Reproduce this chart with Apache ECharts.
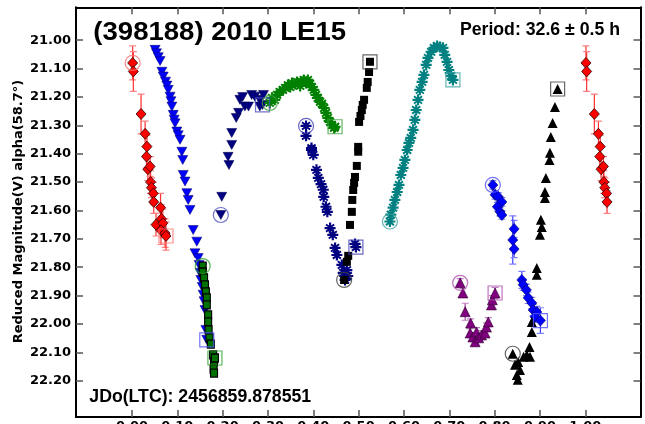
<!DOCTYPE html>
<html><head><meta charset="utf-8">
<script src="https://cdn.jsdelivr.net/npm/echarts@6/dist/echarts.min.js"></script>
<style>html,body{margin:0;padding:0;background:#fff}#c{width:645px;height:424px}</style>
</head><body><div id="c"></div>
<script>
// ---- axis ticks ----
const phaseTicks = [0, 0.1, 0.2, 0.3, 0.4, 0.5, 0.6, 0.7, 0.8, 0.9, 1.0];
const magTicks = [21.0, 21.1, 21.2, 21.3, 21.4, 21.5, 21.6, 21.7, 21.8, 21.9, 22.0, 22.1, 22.2];
const phaseRange = [-0.1235, 1.1218];
const magRange = [20.884, 22.328];

// ---- texts ----
const titleText = "(398188) 2010 LE15";
const periodText = "Period: 32.6 \u00b1 0.5 h";
const epochText = "JDo(LTC): 2456859.878551";
const yName = "Reduced Magnitude(V) alpha(58.7\u00b0)";

// ---- data: [phase, reduced magnitude] ----
const redPts = [[0.0015,21.08],[0.003,21.11],[0.020,21.26],[0.029,21.33],[0.033,21.375],[0.032,21.41],[0.035,21.455],[0.040,21.445],[0.041,21.50],[0.043,21.52],[0.047,21.54],[0.048,21.57],[0.063,21.59],[0.053,21.65],[0.065,21.63],[0.068,21.645],[0.064,21.67],[0.073,21.68],[0.075,21.69]];
const redErr = [0.06,0.07,0.07,0.045,0.04,0.04,0.04,0.035,0.04,0.035,0.04,0.04,0.05,0.04,0.05,0.05,0.05,0.05,0.05];

const blueTri = [[0.051,21.034],[0.054,21.046],[0.058,21.06],[0.062,21.073],[0.066,21.111],[0.069,21.128],[0.074,21.146],[0.077,21.16],[0.080,21.175],[0.084,21.199],[0.086,21.215],[0.088,21.234],[0.091,21.263],[0.093,21.28],[0.095,21.293],[0.099,21.322],[0.102,21.335],[0.106,21.351],[0.110,21.393],[0.112,21.422],[0.113,21.475],[0.117,21.498],[0.121,21.539],[0.124,21.563],[0.128,21.598],[0.135,21.669],[0.143,21.710],[0.139,21.751],[0.146,21.768],[0.148,21.792],[0.150,21.82],[0.152,21.845],[0.155,21.87],[0.157,21.897],[0.159,21.92],[0.161,21.951],[0.163,22.021],[0.165,22.056]];

const greenSq = [[0.156,21.796],[0.156,21.817],[0.159,21.838],[0.161,21.862],[0.163,21.887],[0.165,21.908],[0.165,21.933],[0.168,21.968],[0.168,21.993],[0.169,22.021],[0.171,22.049],[0.174,22.071],[0.179,22.109],[0.181,22.134],[0.180,22.159],[0.181,22.173],[0.183,22.12]];

const navyTri = [[0.196,21.616],[0.198,21.552],[0.214,21.440],[0.212,21.411],[0.220,21.369],[0.220,21.327],[0.230,21.274],[0.235,21.256],[0.238,21.210],[0.244,21.200],[0.249,21.234],[0.257,21.234],[0.264,21.193],[0.271,21.199],[0.282,21.210],[0.282,21.234],[0.290,21.193],[0.288,21.228]];

const greenStar = [[0.304,21.221],[0.309,21.203],[0.315,21.210],[0.320,21.193],[0.326,21.182],[0.333,21.175],[0.338,21.168],[0.344,21.158],[0.349,21.165],[0.353,21.151],[0.360,21.154],[0.364,21.147],[0.371,21.161],[0.375,21.147],[0.379,21.140],[0.384,21.151],[0.388,21.140],[0.393,21.154],[0.397,21.165],[0.401,21.175],[0.406,21.193],[0.410,21.203],[0.415,21.217],[0.419,21.224],[0.424,21.239],[0.428,21.256],[0.432,21.274],[0.437,21.288],[0.441,21.299],[0.446,21.309],[0.448,21.305]];

const navyStar = [[0.384,21.302],[0.384,21.337],[0.396,21.380],[0.396,21.387],[0.400,21.404],[0.407,21.457],[0.411,21.485],[0.417,21.507],[0.422,21.527],[0.423,21.552],[0.428,21.587],[0.431,21.605],[0.437,21.662],[0.443,21.686],[0.448,21.732],[0.452,21.757],[0.463,21.792],[0.466,21.820],[0.474,21.810],[0.470,21.845],[0.476,21.831],[0.492,21.718],[0.494,21.729]];

const blackSq = [[0.468,21.845],[0.474,21.781],[0.477,21.760],[0.481,21.651],[0.485,21.605],[0.486,21.563],[0.488,21.528],[0.490,21.503],[0.492,21.482],[0.496,21.443],[0.499,21.393],[0.499,21.376],[0.501,21.288],[0.504,21.267],[0.507,21.246],[0.509,21.228],[0.512,21.210],[0.518,21.168],[0.520,21.147],[0.523,21.112],[0.525,21.076]];

const tealStar = [[0.569,21.639],[0.571,21.615],[0.576,21.590],[0.580,21.563],[0.585,21.535],[0.589,21.510],[0.593,21.475],[0.598,21.450],[0.602,21.422],[0.607,21.387],[0.611,21.362],[0.615,21.344],[0.620,21.316],[0.624,21.281],[0.627,21.246],[0.631,21.210],[0.635,21.175],[0.640,21.147],[0.644,21.122],[0.649,21.087],[0.653,21.062],[0.660,21.041],[0.666,21.027],[0.673,21.020],[0.679,21.024],[0.686,21.027],[0.690,21.052],[0.695,21.076],[0.699,21.105],[0.704,21.126],[0.708,21.140]];

const purpleTri = [[0.724,21.855],[0.730,21.891],[0.735,21.957],[0.747,21.997],[0.746,22.032],[0.752,22.046],[0.757,22.063],[0.760,22.028],[0.765,22.049],[0.771,22.039],[0.779,22.032],[0.782,22.011],[0.786,21.993],[0.793,21.933],[0.795,21.915],[0.801,21.891]];
const purpleErr = [0.015,0.015,0.03,0.015,0.015,0.015,0.015,0.015,0.015,0.015,0.015,0.015,0.015,0.015,0.015,0.02];

const blueDia = [[0.796,21.510],[0.801,21.545],[0.808,21.552],[0.816,21.570],[0.806,21.587],[0.812,21.605],[0.816,21.616],[0.843,21.665],[0.840,21.704],[0.843,21.736],[0.860,21.845],[0.863,21.862],[0.870,21.880],[0.874,21.908],[0.882,21.926],[0.885,21.951],[0.893,21.958],[0.889,21.975],[0.901,21.988]];
const blueDiaErr = [0.015,0.015,0.015,0.015,0.015,0.015,0.015,0.03,0.085,0.03,0.03,0.02,0.02,0.02,0.02,0.02,0.02,0.02,0.045];

const blackTri = [[0.840,22.105],[0.845,22.144],[0.849,22.180],[0.851,22.197],[0.856,22.162],[0.852,22.134],[0.864,22.116],[0.871,22.109],[0.878,22.116],[0.877,22.081],[0.882,22.028],[0.882,21.993],[0.893,21.803],[0.893,21.827],[0.900,21.686],[0.904,21.658],[0.902,21.633],[0.911,21.556],[0.911,21.535],[0.913,21.486],[0.921,21.422],[0.922,21.397],[0.924,21.341],[0.928,21.292],[0.933,21.235],[0.939,21.172]];

// points before phase 0.05 are repeated after 1.0
const wrapLimit = 0.05;

const STAR = 'path://M4,0 L6,0 L6,2.6 L8.2,1 L9.2,2.4 L7,4 L10,4 L10,6 L7,6 L9.2,7.6 L8.2,9 L6,7.4 L6,10 L4,10 L4,7.4 L1.8,9 L0.8,7.6 L3,6 L0,6 L0,4 L3,4 L0.8,2.4 L1.8,1 L4,2.6 Z';

const redAll = redPts.concat(redPts.filter(p => p[0] < wrapLimit).map(p => [p[0] + 1, p[1]]));
const redErrAll = redPts.map((p, i) => [p[0], p[1], redErr[i]])
  .concat(redPts.map((p, i) => [p[0] + 1, p[1], redErr[i]]).filter(p => p[0] - 1 < wrapLimit));

const groups = [
  {data: redAll, first: redPts[0], last: redPts[redPts.length-1], color:'#ff0000', mark:'#ff7070', symbol:'diamond', size:[10,11], border:'#300000', bw:0.8},
  {data: blueTri, first: null, last: blueTri[blueTri.length-1], color:'#0000ff', mark:'#5050ff', symbol:'triangle', rot:180, size:[10,9], border:'#000060', bw:0.5},
  {data: greenSq, first: greenSq[0], last: greenSq[greenSq.length-1], color:'#007000', mark:'#30a030', symbol:'rect', size:[7,8], border:'#000000', bw:1.2},
  {data: navyTri, first: navyTri[0], last: navyTri[navyTri.length-1], color:'#000080', mark:'#5050c0', symbol:'triangle', rot:180, size:[10,9], border:'#000050', bw:0.5},
  {data: greenStar, first: greenStar[0], last: greenStar[greenStar.length-1], color:'#008000', mark:'#40a040', symbol:STAR, size:11, border:'#008000', bw:0},
  {data: navyStar, first: navyStar[0], last: navyStar[navyStar.length-1], color:'#000080', mark:'#4040b0', symbol:STAR, size:11, border:'#000080', bw:0},
  {data: blackSq, first: blackSq[0], last: blackSq[blackSq.length-1], color:'#000000', mark:'#404040', symbol:'rect', size:8, border:'#000', bw:0},
  {data: tealStar, first: tealStar[0], last: tealStar[tealStar.length-1], color:'#008080', mark:'#40a0a0', symbol:STAR, size:11, border:'#008080', bw:0},
  {data: purpleTri, first: purpleTri[0], last: purpleTri[purpleTri.length-1], color:'#800080', mark:'#b050b0', symbol:'triangle', size:[10,10], border:'#300030', bw:0.6},
  {data: blueDia, first: blueDia[0], last: blueDia[blueDia.length-1], color:'#0000ff', mark:'#5050ff', symbol:'diamond', size:[10,11], border:'#000060', bw:0.6},
  {data: blackTri, first: blackTri[0], last: blackTri[blackTri.length-1], color:'#000000', mark:'#404040', symbol:'triangle', size:[10,10], border:'#000', bw:0}
];

function errSeries(data, color, capColor) {
  return {
    type: 'custom', clip: true, silent: true, z: 2,
    data: data, encode: {x: 0, y: 1},
    renderItem: function (params, api) {
      const x = api.value(0), y = api.value(1), e = api.value(2);
      const a = api.coord([x, y - e]), b = api.coord([x, y + e]);
      const cw = 3.5;
      return {type: 'group', children: [
        {type: 'line', shape: {x1: a[0], y1: a[1], x2: b[0], y2: b[1]}, style: {stroke: color, lineWidth: 1.2}},
        {type: 'line', shape: {x1: a[0]-cw, y1: a[1], x2: a[0]+cw, y2: a[1]}, style: {stroke: capColor, lineWidth: 1.2}},
        {type: 'line', shape: {x1: b[0]-cw, y1: b[1], x2: b[0]+cw, y2: b[1]}, style: {stroke: capColor, lineWidth: 1.2}}
      ]};
    }
  };
}

const series = [];
series.push(errSeries(redErrAll, '#ff3030', '#ff8080'));
series.push(errSeries(purpleTri.map((p, i) => [p[0], p[1], purpleErr[i]]), '#a040a0', '#c080c0'));
series.push(errSeries(blueDia.map((p, i) => [p[0], p[1], blueDiaErr[i]]), '#4040ff', '#8080ff'));

groups.forEach(g => {
  series.push({
    type: 'scatter', data: g.data, symbol: g.symbol, symbolSize: g.size, symbolRotate: g.rot || 0,
    itemStyle: {color: g.color, borderColor: g.border, borderWidth: g.bw, opacity: 1},
    z: 3, clip: true, silent: true
  });
});
groups.forEach(g => {
  if (g.first) series.push({type: 'scatter', data: [g.first], symbol: 'circle', symbolSize: 15,
    itemStyle: {color: 'rgba(0,0,0,0)', borderColor: g.mark, borderWidth: 1.2}, z: 4, silent: true});
  if (g.last) series.push({type: 'scatter', data: [g.last], symbol: 'rect', symbolSize: 14,
    itemStyle: {color: 'rgba(0,0,0,0)', borderColor: g.mark, borderWidth: 1.2}, z: 4, silent: true});
});

const axisLineStyle = {show: true, onZero: false, lineStyle: {color: '#000', width: 2}};
const tickStyle = {show: true, inside: true, length: 7, lineStyle: {color: '#555', width: 1.5}};
const labelFont = {fontFamily: 'DejaVu Sans', fontWeight: 'bold', fontSize: 13, color: '#000'};

const chart = echarts.init(document.getElementById('c'), null, {renderer: 'canvas'});
chart.setOption({
  animation: false,
  backgroundColor: '#fff',
  grid: {left: 76, right: 4.5, top: 7.3, bottom: 7, containLabel: false, outerBoundsMode: 'none'},
  xAxis: [
    {type: 'value', position: 'bottom', min: phaseRange[0], max: phaseRange[1],
      axisLine: axisLineStyle, axisTick: Object.assign({customValues: phaseTicks}, tickStyle),
      axisLabel: Object.assign({customValues: phaseTicks, margin: 3, formatter: v => v.toFixed(2)}, labelFont),
      splitLine: {show: false}},
    {type: 'value', position: 'top', min: phaseRange[0], max: phaseRange[1],
      axisLine: axisLineStyle, axisTick: Object.assign({customValues: phaseTicks}, tickStyle),
      axisLabel: {show: false}, splitLine: {show: false}}
  ],
  yAxis: [
    {type: 'value', inverse: true, position: 'left', min: magRange[0], max: magRange[1],
      axisLine: axisLineStyle, axisTick: Object.assign({customValues: magTicks}, tickStyle),
      axisLabel: Object.assign({customValues: magTicks, margin: 5, formatter: v => v.toFixed(2)}, labelFont),
      splitLine: {show: false}},
    {type: 'value', inverse: true, position: 'right', min: magRange[0], max: magRange[1],
      axisLine: axisLineStyle, axisTick: Object.assign({customValues: magTicks}, tickStyle),
      axisLabel: {show: false}, splitLine: {show: false}}
  ],
  graphic: [
    {type: 'text', x: 93.3, y: 32.6, scaleX: 1.06, z: 10, silent: true,
      style: {text: titleText, font: 'bold 26px "Liberation Sans", Arial', fill: '#000', align: 'left', verticalAlign: 'middle'}},
    {type: 'text', x: 620, y: 30.6, z: 10, silent: true,
      style: {text: periodText, font: 'bold 17.7px "Liberation Sans", Arial', fill: '#000', align: 'right', verticalAlign: 'middle'}},
    {type: 'text', x: 89.3, y: 397.3, z: 10, silent: true,
      style: {text: epochText, font: 'bold 17.7px "Liberation Sans", Arial', fill: '#000', align: 'left', verticalAlign: 'middle'}},
    {type: 'text', x: 18.5, y: 211.5, rotation: Math.PI / 2, z: 10, silent: true,
      style: {text: yName, font: 'bold 13px "DejaVu Sans"', fill: '#000', align: 'center', verticalAlign: 'middle'}}
  ],
  series: series
});
</script>
</body></html>
